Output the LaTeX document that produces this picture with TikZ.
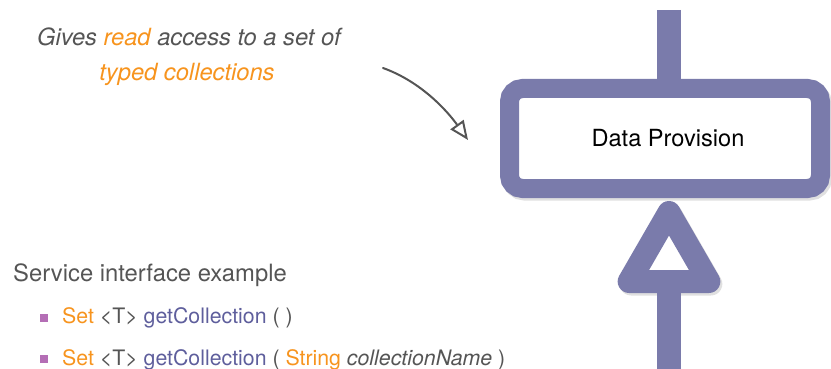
\documentclass[tikz,border=0pt]{standalone}
\usepackage{fontspec}
\setmainfont{TeX Gyre Heros}
\usepackage{tikz}
\usetikzlibrary{shapes.geometric,positioning,arrows.meta}
\definecolor{ifacepurple}{HTML}{7A7BAB}
\definecolor{hlorange}{HTML}{F7941E}
\definecolor{textgray}{HTML}{555555}
\definecolor{codepurple}{HTML}{5E5E9C}
\definecolor{bulletpink}{HTML}{B46EB5}
\tikzstyle{softshadow} = [preaction={draw=black, draw opacity=0.12,
    transform canvas={xshift=2pt, yshift=-2.5pt}}]
\tikzstyle{provbox} = [draw=ifacepurple, fill=white, line width=19pt,
    rounded corners=13pt, minimum width=311pt, minimum height=100pt,
    font=\fontsize{23.6}{28}\selectfont, softshadow]
\tikzstyle{reqtri} = [regular polygon, regular polygon sides=3, draw=ifacepurple,
    fill=white, line width=23pt, line join=round, minimum size=92pt, inner sep=0pt,
    softshadow]
\tikzstyle{bar} = [ifacepurple, line width=24pt]

\begin{document}
\begin{tikzpicture}[x=1pt, y=-1pt,
  note/.style={inner sep=0pt, text=textgray, font=\fontsize{23.7}{28}\selectfont\itshape},
  plain/.style={inner sep=0pt, text=textgray, font=\fontsize{23.8}{28}\selectfont},
  code/.style={inner sep=0pt, text=textgray, font=\fontsize{21.3}{26}\selectfont},
  bullet/.style={fill=bulletpink, minimum size=8.5pt, inner sep=0pt},
  pointer/.style={draw=textgray, line width=2pt, line cap=round,
    -{Triangle[open, length=19pt, width=16pt, line width=2pt]}}]
  \useasboundingbox (0,0) rectangle (831,369);
  % Place nodes
  \node [provbox] (prov) at (665,138.5) {\hspace*{6pt}Data Provision};
  \node [reqtri] (req) at (669,258.5) {};
  \coordinate (topend) at (669,10);
  \coordinate (botend) at (669,369);
  \draw [bar] (topend) -- (topend |- prov.north);
  \draw [bar] (req.south) -- (botend);
  % Comment
  \node [note, anchor=base] (gives) at (189,46)
  {Gives \textcolor{hlorange}{read} access to a set of};
  \node [note, anchor=base, text=hlorange] (typed) at (187,81)
  {typed collections};
  \coordinate (arrstart) at (383,68);
  \coordinate (arrtip) at (468,140);
  \draw [pointer] (arrstart) .. controls (422,82) and (448,112) .. (arrtip);
  % Interface
  \node [plain, anchor=base west] (example) at (13,281)
  {Service interface example};
  \node [bullet] (b1) at (44,318) {};
  \node [code, anchor=base west] (sig1) at (62,323)
  {\textcolor{hlorange}{Set} <T> \textcolor{codepurple}{getCollection} ( )};
  \node [bullet] (b2) at (44,359) {};
  \node [code, anchor=base west] (sig2) at (62,365)
  {\textcolor{hlorange}{Set} <T> \textcolor{codepurple}{getCollection} (
   \textcolor{hlorange}{String} \textit{collectionName} )};
\end{tikzpicture}
\end{document}
